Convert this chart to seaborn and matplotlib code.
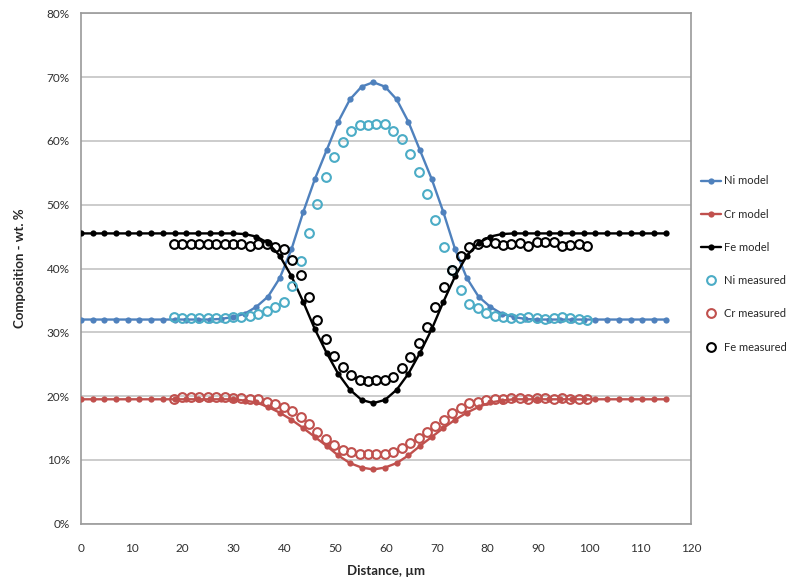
import numpy as np
import pandas as pd
import matplotlib
matplotlib.use("Agg")
import matplotlib.pyplot as plt
import seaborn as sns
from matplotlib.ticker import FuncFormatter, MultipleLocator

# ---------------- data ----------------
# model grid: 0 .. 115 um (51 nodes)
model_x = np.linspace(0, 115, 51)
ni_model = [32.0, 32.0, 32.0, 32.0, 32.0, 32.0, 32.0, 32.0, 32.0, 32.0, 32.0, 32.0,
            32.1, 32.4, 32.9, 34.0, 35.6, 38.5, 43.0, 48.8, 54.0, 58.5, 63.0, 66.5, 68.5,
            69.2,
            68.5, 66.5, 63.0, 58.5, 54.0, 48.8, 43.0, 38.5, 35.6, 34.0, 32.9, 32.4, 32.1,
            32.0, 32.0, 32.0, 32.0, 32.0, 32.0, 32.0, 32.0, 32.0, 32.0, 32.0, 32.0, 32.0][:51]
cr_model = [19.5, 19.5, 19.5, 19.5, 19.5, 19.5, 19.5, 19.5, 19.5, 19.5, 19.5, 19.5,
            19.5, 19.5, 19.3, 19.0, 18.3, 17.4, 16.3, 15.0, 13.6, 12.2, 10.7, 9.5, 8.8,
            8.5,
            8.8, 9.5, 10.7, 12.2, 13.6, 15.0, 16.3, 17.4, 18.3, 19.0, 19.3, 19.5, 19.5,
            19.5, 19.5, 19.5, 19.5, 19.5, 19.5, 19.5, 19.5, 19.5, 19.5, 19.5, 19.5, 19.5][:51]
fe_model = [45.5, 45.5, 45.5, 45.5, 45.5, 45.5, 45.5, 45.5, 45.5, 45.5, 45.5, 45.5,
            45.5, 45.5, 45.4, 45.0, 44.0, 42.0, 38.8, 34.8, 30.5, 26.8, 23.5, 21.0, 19.4,
            18.9,
            19.4, 21.0, 23.5, 26.8, 30.5, 34.8, 38.8, 42.0, 44.0, 45.0, 45.4, 45.5, 45.5,
            45.5, 45.5, 45.5, 45.5, 45.5, 45.5, 45.5, 45.5, 45.5, 45.5, 45.5, 45.5, 45.5][:51]

# measured grid: ~18.3 .. 99.6 um (50 points)
meas_x = np.linspace(18.3, 99.6, 50)
ni_meas = [32.4, 32.2, 32.2, 32.3, 32.2, 32.3, 32.3, 32.4, 32.4, 32.5,
           32.8, 33.3, 33.9, 34.8, 37.3, 41.2, 45.6, 50.1, 54.4, 57.5,
           59.9, 61.6, 62.5, 62.5, 62.6, 62.6, 61.6, 60.3, 57.9, 55.1,
           51.6, 47.6, 43.3, 39.8, 36.6, 34.5, 33.8, 33.0, 32.6, 32.4,
           32.3, 32.3, 32.4, 32.2, 32.1, 32.2, 32.4, 32.3, 32.1, 32.0]
cr_meas = [19.5, 19.8, 19.9, 19.9, 19.8, 19.9, 19.8, 19.7, 19.7, 19.6,
           19.5, 19.1, 18.7, 18.3, 17.6, 16.8, 15.7, 14.4, 13.2, 12.3,
           11.6, 11.3, 11.0, 11.0, 10.9, 10.9, 11.3, 11.8, 12.6, 13.4,
           14.4, 15.3, 16.3, 17.3, 18.1, 18.9, 19.1, 19.4, 19.5, 19.6,
           19.7, 19.7, 19.6, 19.7, 19.7, 19.6, 19.7, 19.6, 19.6, 19.5]
fe_meas = [43.8, 43.8, 43.8, 43.8, 43.8, 43.8, 43.8, 43.8, 43.9, 43.5,
           43.9, 43.8, 43.3, 43.0, 41.4, 39.0, 35.6, 32.0, 28.9, 26.3,
           24.5, 23.3, 22.5, 22.4, 22.5, 22.5, 23.0, 24.4, 26.1, 28.3,
           30.9, 33.9, 37.1, 39.8, 41.9, 43.3, 43.9, 44.2, 44.0, 43.7,
           43.9, 44.0, 43.6, 44.1, 44.2, 44.1, 43.5, 43.7, 43.8, 43.5]

x_ticks = list(range(0, 121, 10))
y_ticks = list(range(0, 81, 10))

# ---------------- style ----------------
sns.set_theme(style="white")
plt.rcParams['font.family'] = ['Lato', 'DejaVu Sans']

c_ni = "#4F81BD"
c_cr = "#C0504D"
c_fe = "#000000"
c_ni_m = "#4BACC6"

fig = plt.figure(figsize=(8.05, 5.81), dpi=100)
ax = fig.add_axes([81/805, 1 - 523.7/581, (691 - 81)/805, (523.7 - 13.3)/581])

def model(y, color, label):
    sns.lineplot(x=model_x, y=y, ax=ax, color=color, linewidth=1.7, marker='o',
                 markersize=4.5, markeredgewidth=0, markerfacecolor=color,
                 label=label, sort=False, estimator=None, zorder=3)

def meas(y, color, label):
    sns.lineplot(x=meas_x, y=y, ax=ax, linestyle='none', marker='o', markersize=6.3,
                 markerfacecolor='none', markeredgecolor=color, markeredgewidth=1.5,
                 color=color, label=label, sort=False, estimator=None, zorder=4)

model(ni_model, c_ni, "Ni model")
model(cr_model, c_cr, "Cr model")
model(fe_model, c_fe, "Fe model")
meas(ni_meas, c_ni_m, "Ni measured")
meas(cr_meas, c_cr, "Cr measured")
meas(fe_meas, c_fe, "Fe measured")

ax.set_xlim(0, 120)
ax.set_ylim(0, 80)
ax.set_xticks(x_ticks)
ax.set_yticks(y_ticks)
ax.yaxis.set_major_formatter(FuncFormatter(lambda v, p: f"{v:.0f}%"))
ax.grid(axis='y', color='#BFBFBF', linewidth=1.1)
ax.grid(axis='x', visible=False)
for s in ax.spines.values():
    s.set_color('#9A9A9A')
    s.set_linewidth(1.2)
ax.tick_params(axis='both', direction='out', length=4, width=1, color='#9A9A9A',
               labelsize=8.5, labelcolor='#303030')
ax.tick_params(axis='x', pad=10)
ax.tick_params(axis='y', pad=4)
ax.set_xlabel("Distance, µm", fontsize=9.5, fontweight='bold', labelpad=8)
ax.set_ylabel("Composition - wt. %", fontsize=9.5, fontweight='bold', labelpad=15)

handles, labels = ax.get_legend_handles_labels()
ax.get_legend().remove()
fig.legend(handles, labels, loc='upper left', bbox_to_anchor=(697/805, 1 - 171/581),
           frameon=False, fontsize=8, labelspacing=2.0, handlelength=1.8,
           handletextpad=0.2, borderaxespad=0)

fig.savefig("out.png", dpi=100)
